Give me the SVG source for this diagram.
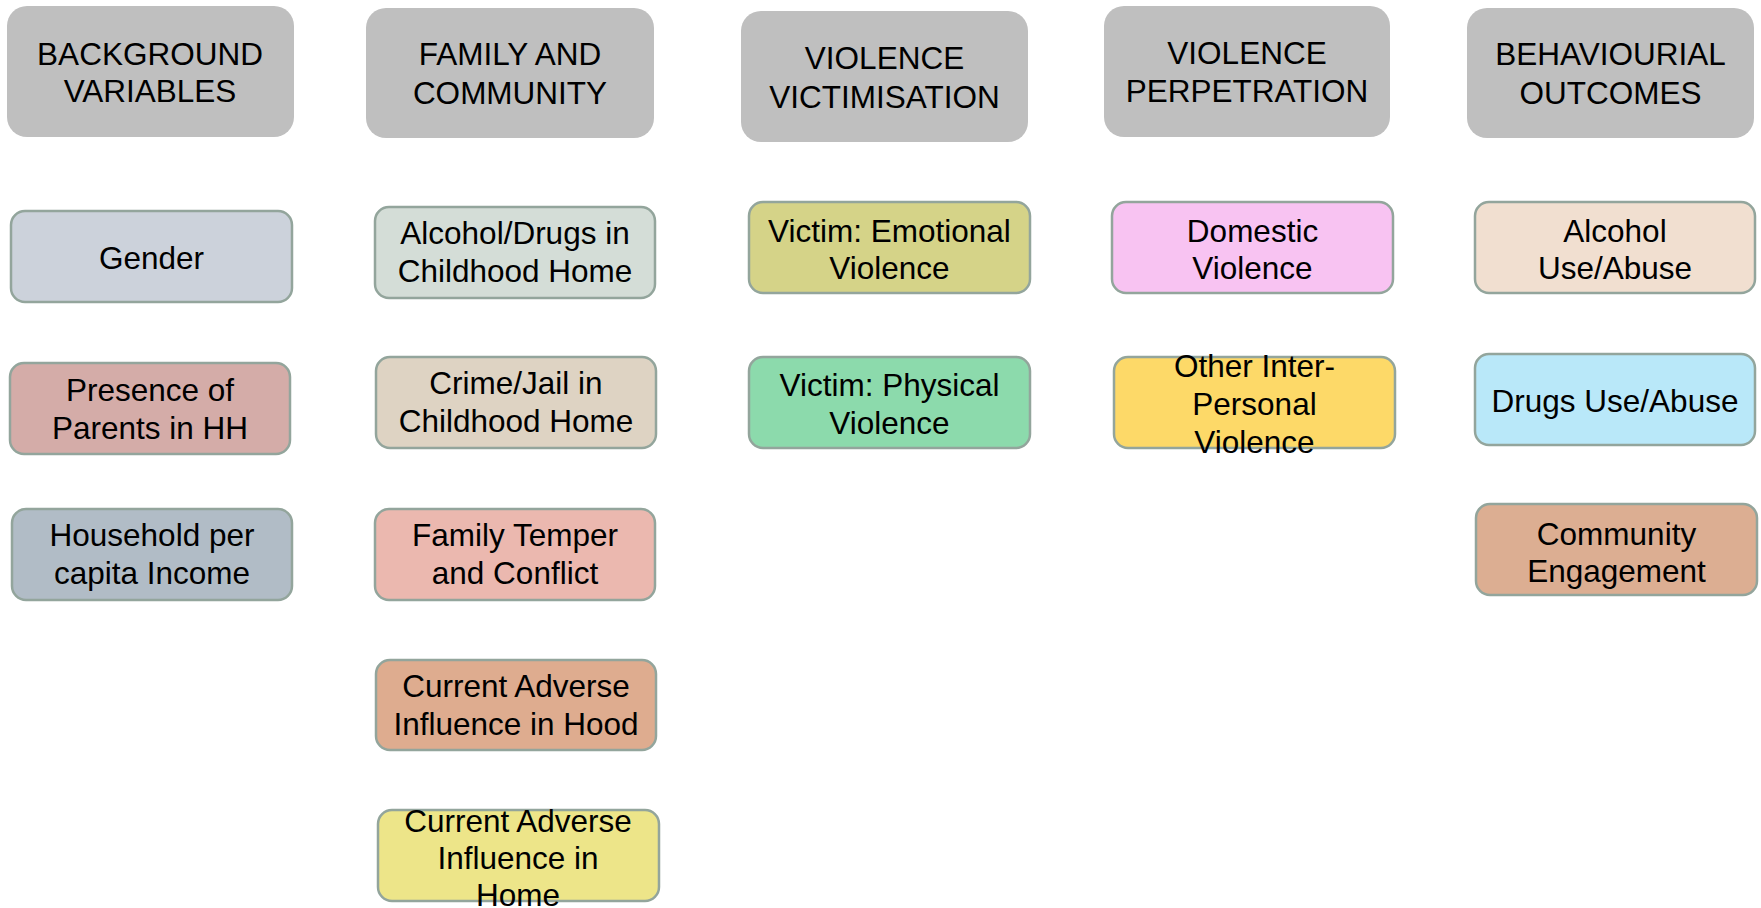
<svg xmlns="http://www.w3.org/2000/svg" width="1761" height="908" viewBox="0 0 1761 908">
  <style>
    text { font-family: "Liberation Sans", Arial, sans-serif; font-size: 31.5px; fill: #000; text-anchor: middle; }
    .hdr rect { fill: #BFBFBF; }
    .node rect { stroke: #93A59C; stroke-width: 2.5; }
  </style>
  <rect width="1761" height="908" fill="#FFFFFF"/>

  <!-- column headers -->
  <g id="hdr-background" class="hdr">
    <rect x="7" y="6" width="287" height="131" rx="20"/>
    <text x="150" y="65">BACKGROUND</text>
    <text x="150" y="102">VARIABLES</text>
  </g>
  <g id="hdr-family" class="hdr">
    <rect x="366" y="8" width="288" height="130" rx="20"/>
    <text x="510" y="65">FAMILY AND</text>
    <text x="510" y="104">COMMUNITY</text>
  </g>
  <g id="hdr-victimisation" class="hdr">
    <rect x="741" y="11" width="287" height="131" rx="20"/>
    <text x="884.5" y="69">VIOLENCE</text>
    <text x="884.5" y="108">VICTIMISATION</text>
  </g>
  <g id="hdr-perpetration" class="hdr">
    <rect x="1104" y="6" width="286" height="131" rx="20"/>
    <text x="1247" y="64">VIOLENCE</text>
    <text x="1247" y="102">PERPETRATION</text>
  </g>
  <g id="hdr-outcomes" class="hdr">
    <rect x="1467" y="8" width="287" height="130" rx="20"/>
    <text x="1610.5" y="65">BEHAVIOURIAL</text>
    <text x="1610.5" y="104">OUTCOMES</text>
  </g>

  <!-- background variables -->
  <g id="n-gender" class="node">
    <rect x="11" y="211" width="281" height="91" rx="14" fill="#CCD2DB"/>
    <text x="151.5" y="269">Gender</text>
  </g>
  <g id="n-parents" class="node">
    <rect x="10" y="363" width="280" height="91" rx="14" fill="#D4ACA8"/>
    <text x="150" y="401">Presence of</text>
    <text x="150" y="439">Parents in HH</text>
  </g>
  <g id="n-income" class="node">
    <rect x="12" y="509" width="280" height="91" rx="14" fill="#B1BCC6"/>
    <text x="152" y="546">Household per</text>
    <text x="152" y="584">capita Income</text>
  </g>

  <!-- family and community -->
  <g id="n-alcohol-home" class="node">
    <rect x="375" y="207" width="280" height="91" rx="14" fill="#D4DDD7"/>
    <text x="515" y="244">Alcohol/Drugs in</text>
    <text x="515" y="282">Childhood Home</text>
  </g>
  <g id="n-crime-home" class="node">
    <rect x="376" y="357" width="280" height="91" rx="14" fill="#DED3C3"/>
    <text x="516" y="394">Crime/Jail in</text>
    <text x="516" y="432">Childhood Home</text>
  </g>
  <g id="n-temper" class="node">
    <rect x="375" y="509" width="280" height="91" rx="14" fill="#EBB8AF"/>
    <text x="515" y="546">Family Temper</text>
    <text x="515" y="584">and Conflict</text>
  </g>
  <g id="n-hood" class="node">
    <rect x="376" y="660" width="280" height="90" rx="14" fill="#DEAC8F"/>
    <text x="516" y="697">Current Adverse</text>
    <text x="516" y="735">Influence in Hood</text>
  </g>
  <g id="n-home" class="node">
    <rect x="378" y="810" width="281" height="91" rx="14" fill="#EDE589"/>
    <text x="518" y="832">Current Adverse</text>
    <text x="518" y="869">Influence in</text>
    <text x="518" y="906">Home</text>
  </g>

  <!-- violence victimisation -->
  <g id="n-emotional" class="node">
    <rect x="749" y="202" width="281" height="91" rx="14" fill="#D5D388"/>
    <text x="889.5" y="242">Victim: Emotional</text>
    <text x="889.5" y="279">Violence</text>
  </g>
  <g id="n-physical" class="node">
    <rect x="749" y="357" width="281" height="91" rx="14" fill="#8CDAAC"/>
    <text x="889.5" y="396">Victim: Physical</text>
    <text x="889.5" y="434">Violence</text>
  </g>

  <!-- violence perpetration -->
  <g id="n-domestic" class="node">
    <rect x="1112" y="202" width="281" height="91" rx="14" fill="#F8C3F2"/>
    <text x="1252.5" y="242">Domestic</text>
    <text x="1252.5" y="279">Violence</text>
  </g>
  <g id="n-interpersonal" class="node">
    <rect x="1114" y="357" width="281" height="91" rx="14" fill="#FDD968"/>
    <text x="1254.5" y="377">Other Inter-</text>
    <text x="1254.5" y="415">Personal</text>
    <text x="1254.5" y="453">Violence</text>
  </g>

  <!-- behavioural outcomes -->
  <g id="n-alcohol-use" class="node">
    <rect x="1475" y="202" width="280" height="91" rx="14" fill="#F1DFD0"/>
    <text x="1615" y="242">Alcohol</text>
    <text x="1615" y="279">Use/Abuse</text>
  </g>
  <g id="n-drugs-use" class="node">
    <rect x="1475" y="354" width="280" height="91" rx="14" fill="#B9E8F9"/>
    <text x="1615" y="412">Drugs Use/Abuse</text>
  </g>
  <g id="n-community" class="node">
    <rect x="1476" y="504" width="281" height="91" rx="14" fill="#DCAE92"/>
    <text x="1616.5" y="545">Community</text>
    <text x="1616.5" y="582">Engagement</text>
  </g>

  <!-- no connectors are drawn between the nodes -->
  <g id="connectors"/>
</svg>
